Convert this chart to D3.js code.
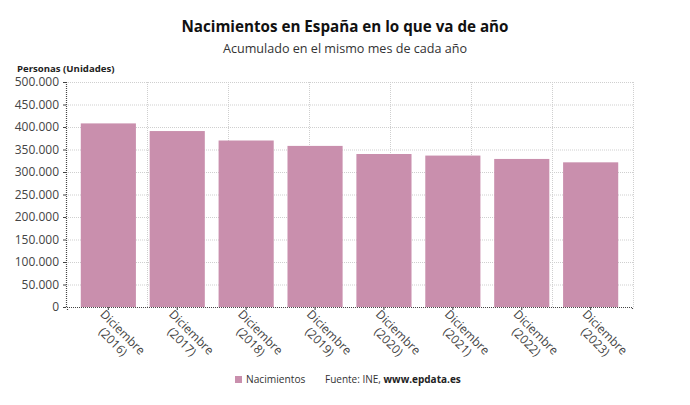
<!DOCTYPE html>
<html><head><meta charset="utf-8">
<script src="https://cdn.jsdelivr.net/npm/d3@7/dist/d3.min.js"></script>
<style>
body{margin:0;background:#fff;}
text{font-family:"Open Sans",sans-serif;}
</style></head>
<body><svg id="c" width="690" height="405"></svg>
<script>
const categories = ["Diciembre (2016)","Diciembre (2017)","Diciembre (2018)","Diciembre (2019)","Diciembre (2020)","Diciembre (2021)","Diciembre (2022)","Diciembre (2023)"];
const nacimientos = [408000, 391000, 370000, 358000, 340000, 336500, 329000, 321500];
const yTicks = [0,50000,100000,150000,200000,250000,300000,350000,400000,450000,500000];
const title = "Nacimientos en España en lo que va de año";
const subtitle = "Acumulado en el mismo mes de cada año";

const svg = d3.select("#c");
const L = 66, R = 633, T = 82, B = 307;
const x = d3.scaleBand().domain(categories).range([L+1, R-1]).paddingInner(0.2).paddingOuter(0.2);
const y = d3.scaleLinear().domain([0,500000]).range([B,T]);
const gx = d3.scaleLinear().domain([0,7]).range([L,R]);

svg.append("text").attr("x",345).attr("y",32).attr("text-anchor","middle")
  .attr("font-size",15.2).attr("font-weight",700).attr("fill","#111").text(title);
svg.append("text").attr("x",345).attr("y",53).attr("text-anchor","middle")
  .attr("font-size",12.6).attr("fill","#333").text(subtitle);
svg.append("text").attr("x",17).attr("y",72).attr("font-size",9.6).attr("font-weight",700)
  .attr("fill","#222").text("Personas (Unidades)");

// grid
const grid = svg.append("g");
grid.selectAll(".hg").data(yTicks.filter(d=>d>0)).join("line")
  .attr("x1",L).attr("x2",R).attr("y1",d=>y(d)+0.5).attr("y2",d=>y(d)+0.5)
  .attr("stroke","#cfcfcf").attr("stroke-dasharray","1,1");
grid.selectAll(".vg").data(d3.range(1,8)).join("line")
  .attr("x1",d=>Math.round(gx(d))+0.5).attr("x2",d=>Math.round(gx(d))+0.5).attr("y1",T).attr("y2",B)
  .attr("stroke","#cfcfcf").attr("stroke-dasharray","1,1");

// bars
svg.append("g").selectAll("rect").data(nacimientos).join("rect")
  .attr("x",(d,i)=>x(categories[i])).attr("width",x.bandwidth())
  .attr("y",d=>y(d)).attr("height",d=>B-y(d))
  .attr("fill","#c98fad");

// y axis
const ya = svg.append("g").attr("transform",`translate(${L},0)`)
  .call(d3.axisLeft(y).tickValues(yTicks).tickSize(3).tickPadding(4)
    .tickFormat(d=>d3.format(",")(d).replace(/,/g,".")));
ya.select(".domain").attr("stroke","#444").attr("stroke-dasharray","1,1").attr("stroke-width",1.2);
ya.selectAll(".tick line").attr("stroke","#444");
ya.selectAll(".tick text").attr("font-size",12).attr("fill","#444").attr("font-family","Open Sans");

// x axis
const xa = svg.append("g").attr("transform",`translate(0,${B})`)
  .call(d3.axisBottom(x).tickSize(3).tickFormat(""));
xa.select(".domain").attr("stroke","#444").attr("stroke-dasharray","1,1").attr("stroke-width",1.2);
xa.selectAll(".tick line").attr("stroke","#444");
xa.selectAll(".tick").each(function(d){
  const parts = d.split(" ");
  const g = d3.select(this).append("g").attr("transform","rotate(45)");
  const t = g.append("text").attr("text-anchor","middle").attr("font-size",12).attr("fill","#444");
  t.append("tspan").attr("x",28).attr("y",12).text(parts[0]);
  t.append("tspan").attr("x",28).attr("y",25.5).text(parts[1]);
});

// legend
svg.append("rect").attr("x",235).attr("y",376).attr("width",7).attr("height",7).attr("fill","#c98fad");
svg.append("text").attr("x",246).attr("y",383).attr("font-size",10.2).attr("fill","#333").text("Nacimientos");
const f = svg.append("text").attr("x",325).attr("y",383).attr("font-size",10).attr("fill","#333");
f.append("tspan").text("Fuente: INE, ");
f.append("tspan").attr("font-weight",700).attr("fill","#222").text("www.epdata.es");
</script></body></html>
